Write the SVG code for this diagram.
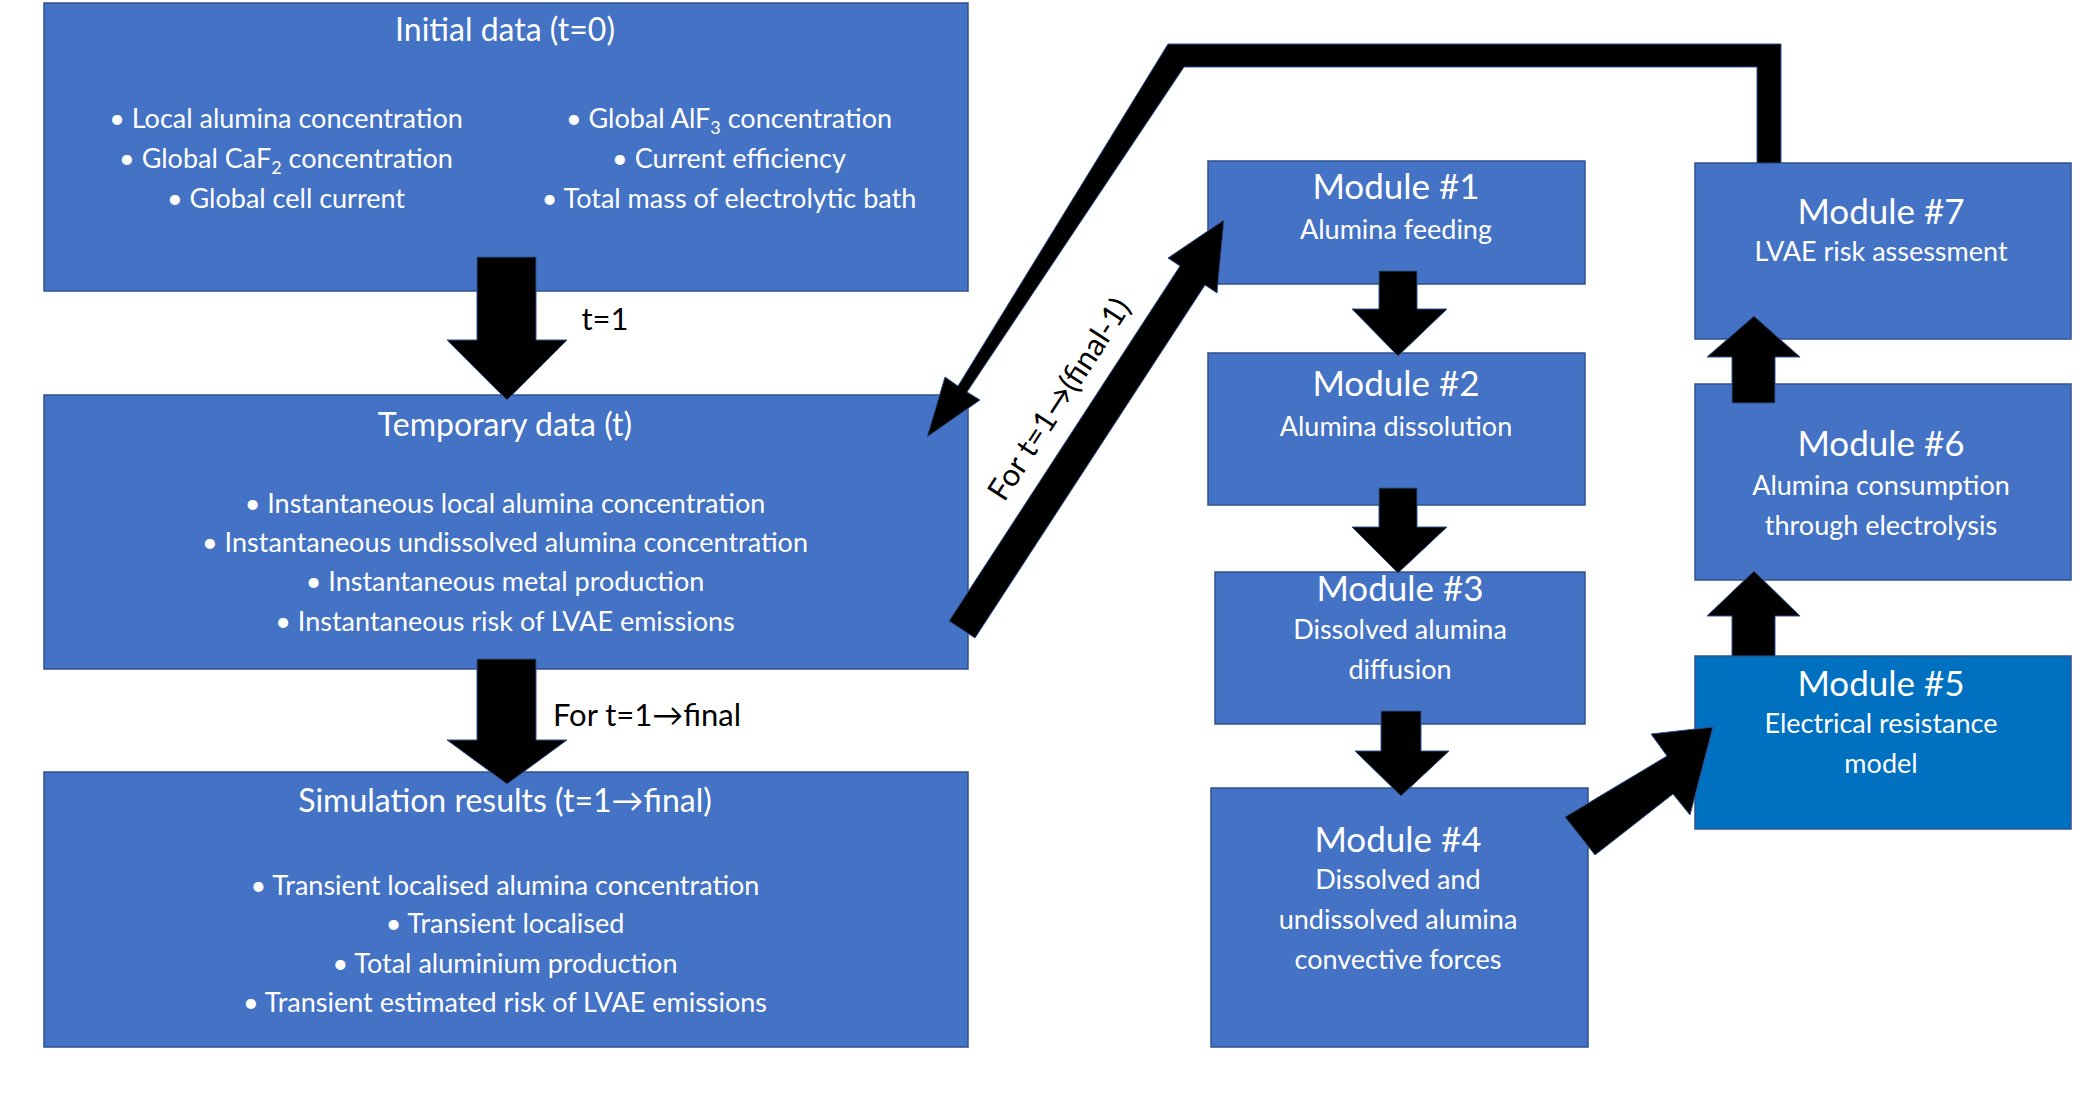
<svg xmlns="http://www.w3.org/2000/svg" width="2090" height="1102" viewBox="0 0 2090 1102">
<style>
.box{fill:#4472C4;stroke:#2F528F;stroke-width:1.5}
.dark{fill:#0070C0;stroke:#2F528F;stroke-width:1.5}
text{font-family:Lato,"Open Sans",sans-serif;fill:#fff;text-anchor:middle}
.t{font-size:32px}
.b{font-size:27px}
.mt{font-size:35px}
.ms{font-size:27px}
.lbl{fill:#000;font-size:31px}
.arr{fill:#000;stroke:#2F528F;stroke-width:1}
</style>
<rect width="2090" height="1102" fill="#fff"/>
<g id="initial">
<rect class="box" x="44" y="3" width="924" height="288"/>
<text class="t" x="505" y="41">Initial data (t=0)</text>
<text class="b" x="286" y="128">•   Local alumina concentration</text>
<text class="b" x="286" y="168">•   Global CaF<tspan font-size="18" dy="6">2</tspan><tspan dy="-6"> concentration</tspan></text>
<text class="b" x="286" y="208">•   Global cell current</text>
<text class="b" x="729" y="128">•   Global AlF<tspan font-size="18" dy="6">3</tspan><tspan dy="-6"> concentration</tspan></text>
<text class="b" x="729" y="168">•   Current efficiency</text>
<text class="b" x="729" y="208">•   Total mass of electrolytic bath</text>
</g>
<g id="temporary">
<rect class="box" x="44" y="395" width="924" height="274"/>
<text class="t" x="505" y="436">Temporary data (t)</text>
<text class="b" x="505" y="513">•   Instantaneous local alumina concentration</text>
<text class="b" x="505" y="552">•   Instantaneous undissolved alumina concentration</text>
<text class="b" x="505" y="591">•   Instantaneous metal production</text>
<text class="b" x="505" y="631">•   Instantaneous risk of LVAE emissions</text>
</g>
<g id="simulation">
<rect class="box" x="44" y="772" width="924" height="275"/>
<text class="t" x="505" y="812">Simulation results (t=1→final)</text>
<text class="b" x="505" y="895">•   Transient localised alumina concentration</text>
<text class="b" x="505" y="933">•   Transient localised</text>
<text class="b" x="505" y="973">•   Total aluminium production</text>
<text class="b" x="505" y="1012">•   Transient estimated risk of LVAE  emissions</text>
</g>
<g id="m1"><rect class="box" x="1208" y="161" width="377" height="123"/>
<text class="mt" x="1396" y="199">Module #1</text><text class="ms" x="1396" y="239">Alumina feeding</text></g>
<g id="m2"><rect class="box" x="1208" y="353" width="377" height="152"/>
<text class="mt" x="1396" y="396">Module #2</text><text class="ms" x="1396" y="436">Alumina dissolution</text></g>
<g id="m3"><rect class="box" x="1215" y="572" width="370" height="152"/>
<text class="mt" x="1400" y="601">Module #3</text><text class="ms" x="1400" y="639">Dissolved alumina</text><text class="ms" x="1400" y="679">diffusion</text></g>
<g id="m4"><rect class="box" x="1211" y="788" width="377" height="259"/>
<text class="mt" x="1398" y="852">Module #4</text><text class="ms" x="1398" y="889">Dissolved and</text><text class="ms" x="1398" y="929">undissolved alumina</text><text class="ms" x="1398" y="969">convective forces</text></g>
<g id="m5"><rect class="dark" x="1695" y="656" width="376" height="173"/>
<text class="mt" x="1881" y="696">Module #5</text><text class="ms" x="1881" y="733">Electrical resistance</text><text class="ms" x="1881" y="773">model</text></g>
<g id="m6"><rect class="box" x="1695" y="384" width="376" height="196"/>
<text class="mt" x="1881" y="456">Module #6</text><text class="ms" x="1881" y="495">Alumina consumption</text><text class="ms" x="1881" y="535">through electrolysis</text></g>
<g id="m7"><rect class="box" x="1695" y="163" width="376" height="176"/>
<text class="mt" x="1881" y="224">Module #7</text><text class="ms" x="1881" y="261">LVAE risk assessment</text></g>
<g id="connectors">
<polygon class="arr" points="477,257 536,257 536,340 567,340 507,400 447,340 477,340"/>
<polygon class="arr" points="477,659 536,659 536,740 567,740 507,784 447,740 477,740"/>
<polygon class="arr" points="1379,271 1417,271 1417,309 1447,309 1398,356 1352,309 1379,309"/>
<polygon class="arr" points="1379,488 1417,488 1417,527 1447,527 1398,573 1352,527 1379,527"/>
<polygon class="arr" points="1381,711 1421,711 1421,751 1449,751 1401,796 1355,751 1381,751"/>
<polygon class="arr" points="1732,403 1775,403 1775,357 1800,357 1754,316 1707,357 1732,357"/>
<polygon class="arr" points="1732,656 1775,656 1775,616 1800,616 1754,571 1707,616 1732,616"/>
<polygon class="arr" points="1565,817 1595,855 1673,794 1690,815 1713,727 1651,734 1667,756"/>
<polygon class="arr" points="1757,163 1781,163 1781,44 1168,44 958,386 945,377 927,437 980,400 967,392 1184,67 1757,67"/>
<polygon class="arr" points="949,621 975,638 1205,285 1217,293 1224,220 1168,258 1180,266"/>
<text class="lbl" x="0" y="0" transform="translate(1068,405) rotate(-57)">For t=1→(final-1)</text>
<text class="lbl" x="605" y="330">t=1</text>
<text class="lbl" x="647" y="726">For t=1→final</text>
</g>
</svg>
